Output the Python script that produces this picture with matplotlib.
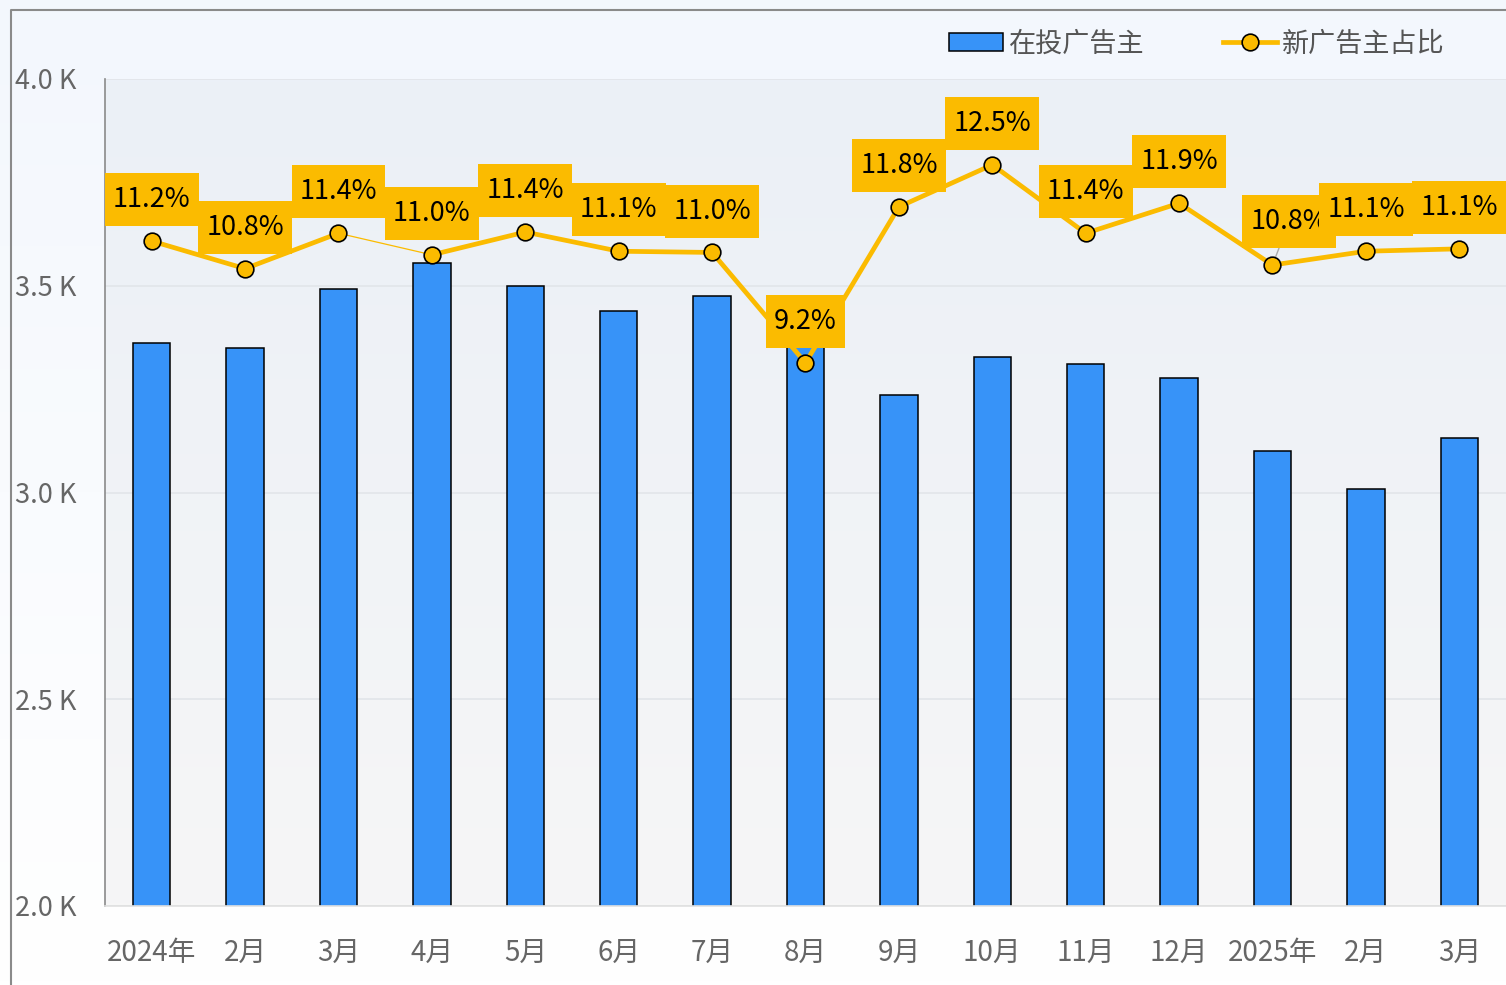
import numpy as np
import matplotlib.pyplot as plt
from matplotlib.patches import Patch
from matplotlib.lines import Line2D
from matplotlib.path import Path
from matplotlib.ticker import FuncFormatter, MultipleLocator
from matplotlib.colors import LinearSegmentedColormap

plt.rcParams['font.family'] = ['Noto Sans CJK SC', 'DejaVu Sans']

months = ['2024年', '2月', '3月', '4月', '5月', '6月', '7月', '8月',
          '9月', '10月', '11月', '12月', '2025年', '2月', '3月']
# active advertisers (count)
advertisers = [3361, 3349, 3492, 3555, 3499, 3439, 3475, 3365,
               3236, 3328, 3311, 3277, 3100, 3008, 3132]
# share of new advertisers (%)
new_share = [11.23, 10.77, 11.36, 11.0, 11.38, 11.06, 11.04, 9.2,
             11.8, 12.5, 11.36, 11.86, 10.83, 11.06, 11.1]

BLUE = '#3793f8'
GOLD = '#fbbb00'
W, H = 1506, 985


def label_box(x0, y0, width, height, mutation_size):
    # wider vertical padding than horizontal
    px, py = 0.3 * mutation_size, 0.48 * mutation_size
    x0, y0 = x0 - px, y0 - py
    x1, y1 = x0 + width + 2 * px, y0 + height + 2 * py
    return Path([(x0, y0), (x1, y0), (x1, y1), (x0, y1), (x0, y0)], closed=True)


fig = plt.figure(figsize=(W / 100, H / 100), dpi=100)

# background gradients (figure + plot area)
ax_l, ax_b, ax_w, ax_h = 105 / W, 79 / H, 1 - 105 / W, 827 / H
bg = fig.add_axes([0, 0, 1, 1], zorder=-10)
grad = np.linspace(0, 1, 256).reshape(-1, 1)
bg.imshow(grad, cmap=LinearSegmentedColormap.from_list('f', ['#f3f7fd', '#ffffff']),
          aspect='auto', extent=[0, 1, 0, 1])
bg.imshow(grad, cmap=LinearSegmentedColormap.from_list('a', ['#ebf0f7', '#f6f6f6']),
          aspect='auto', extent=[ax_l, 1, ax_b, ax_b + ax_h])
bg.set_xlim(0, 1)
bg.set_ylim(0, 1)
bg.set_axis_off()

# outer frame (left + top)
fig.add_artist(Line2D([11 / W, 11 / W, 1], [0, 1 - 10 / H, 1 - 10 / H],
                      transform=fig.transFigure, color='#8a8a8a', lw=1.5))

ax = fig.add_axes([ax_l, ax_b, ax_w, ax_h])
ax.set_facecolor('none')
x = np.arange(len(months))

ax.bar(x, advertisers, width=0.4, color=BLUE, edgecolor='black', lw=1.1, zorder=2)
ax.set_xlim(-0.5, 14.5)
ax.set_ylim(2000, 4000)
ax.yaxis.set_major_locator(MultipleLocator(500))
ax.yaxis.set_major_formatter(FuncFormatter(lambda v, p: f'{v / 1000:.1f} K'))
ax.yaxis.grid(True, color='#e2e5e9', lw=1.2)
ax.set_axisbelow(True)

for s in ['top', 'right']:
    ax.spines[s].set_visible(False)
ax.spines['left'].set_color('#8a8a8a')
ax.spines['left'].set_linewidth(1.2)
ax.spines['bottom'].set_color('#e0e0e0')
ax.spines['bottom'].set_linewidth(1.2)

ax.set_xticks(x, months)
ax.tick_params(axis='x', length=0, pad=23, labelsize=20, labelcolor='#666666')
ax.tick_params(axis='y', length=0, pad=65, labelsize=19.5, labelcolor='#666666')
for lab in ax.get_yticklabels():
    lab.set_ha('left')

# share line on a hidden secondary axis
ax2 = ax.twinx()
ax2.set_ylim(0.15, 13.93)
ax2.set_axis_off()

widths = [3.4] * (len(x) - 1)
widths[2] = 0.9
for i in range(len(x) - 1):
    ax2.plot(x[i:i + 2], new_share[i:i + 2], color=GOLD, lw=widths[i],
             solid_capstyle='round', zorder=2)
ax2.plot(x, new_share, ls='none', marker='o', ms=12, mfc=GOLD,
         mec='black', mew=1.2, zorder=4)

offsets = [(0, 20)] * len(x)
offsets[12] = (12, 21.5)
for i, v in enumerate(new_share):
    arrow = None
    if i == 12:
        arrow = dict(arrowstyle='-', color='#aaaaaa', lw=1, shrinkA=0, shrinkB=0)
    ax2.annotate(f'{v:.1f}%', (x[i], v), xytext=offsets[i], textcoords='offset points',
                 ha='center', va='bottom', fontsize=19.5, color='black',
                 bbox=dict(boxstyle=label_box, fc=GOLD, ec='none'),
                 arrowprops=arrow, zorder=3)

handles = [Patch(facecolor=BLUE, edgecolor='black', lw=1.1),
           Line2D([], [], color=GOLD, lw=3.4, marker='o', ms=12, mfc=GOLD,
                  mec='black', mew=1.2)]
fig.legend(handles, ['在投广告主', '新广告主占比'], loc='center right',
           bbox_to_anchor=(1445 / W, 1 - 44 / H), ncol=2, frameon=False,
           fontsize=19.5, labelcolor='#555555', handlelength=2.0, handleheight=0.6,
           handletextpad=0.2, columnspacing=2.9, borderpad=0, borderaxespad=0)

fig.savefig('out.png', dpi=100)
